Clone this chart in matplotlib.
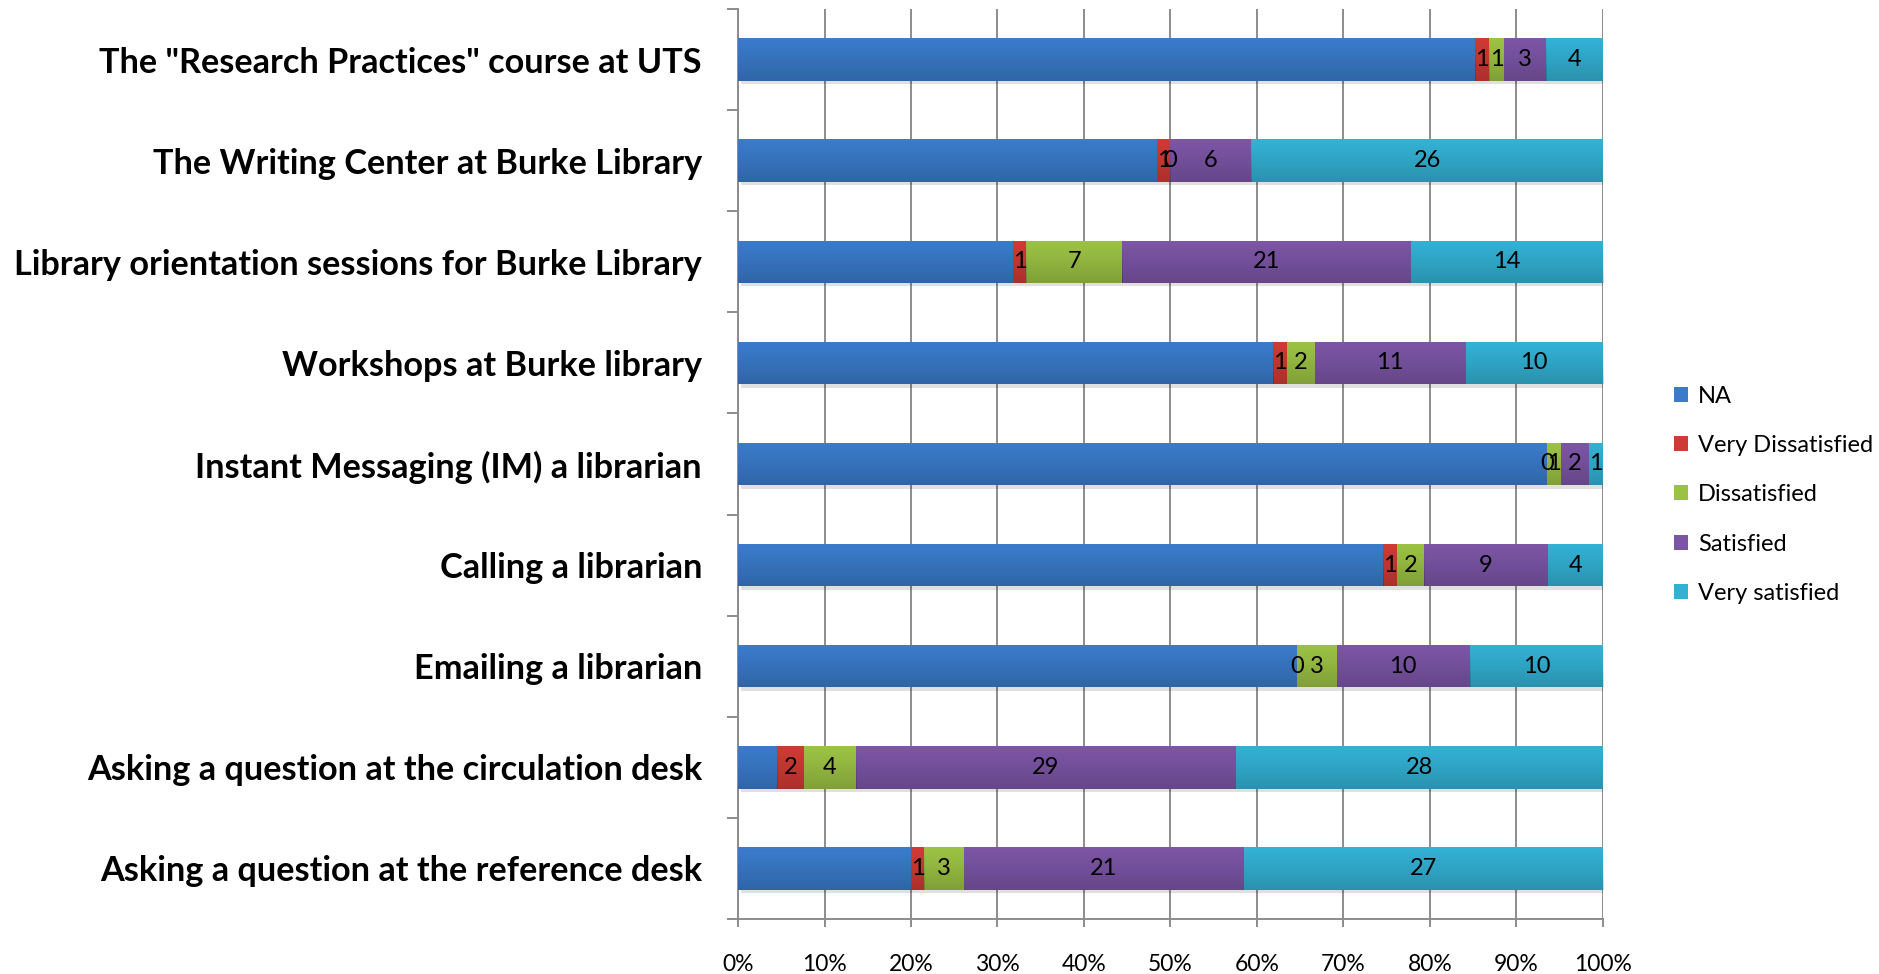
import numpy as np
import matplotlib
matplotlib.use("Agg")
import matplotlib.pyplot as plt
from matplotlib.patches import Patch
from matplotlib import patheffects

plt.rcParams['font.family'] = ['Lato', 'DejaVu Sans']

categories = [
    'The "Research Practices" course at UTS',
    'The Writing Center at Burke Library',
    'Library orientation sessions for Burke Library',
    'Workshops at Burke library',
    'Instant Messaging (IM) a librarian',
    'Calling a librarian',
    'Emailing a librarian',
    'Asking a question at the circulation desk',
    'Asking a question at the reference desk',
]
series_names = ['NA', 'Very Dissatisfied', 'Dissatisfied', 'Satisfied', 'Very satisfied']
na = [52, 31, 20, 39, 58, 47, 42, 3, 13]
very_dissatisfied = [1, 1, 1, 1, 0, 1, 0, 2, 1]
dissatisfied = [1, 0, 7, 2, 1, 2, 3, 4, 3]
satisfied = [3, 6, 21, 11, 2, 9, 10, 29, 21]
very_satisfied = [4, 26, 14, 10, 1, 4, 10, 28, 27]
colors = ['#3A7BCA', '#D03A35', '#9CC244', '#7C55A6', '#33B1D4']

counts = np.array([na, very_dissatisfied, dissatisfied, satisfied, very_satisfied], dtype=float)
shares = counts / counts.sum(axis=0)

fig = plt.figure(figsize=(18.79, 9.74), dpi=100)
ax = fig.add_axes([0.3928, 0.0565, 0.853 - 0.3928, 0.9908 - 0.0565])

# vertical shading overlay: clear at the top, darker at the bottom
shade = np.zeros((64, 1, 4))
shade[:, 0, 3] = np.linspace(0.0, 0.24, 64) ** 1.2

y = np.arange(len(categories))
left = np.zeros(len(categories))
shadow = [patheffects.SimplePatchShadow(offset=(2, -2.5), shadow_rgbFace='black', alpha=0.12),
          patheffects.Normal()]
for i, name in enumerate(series_names):
    bars = ax.barh(y, shares[i], left=left, height=0.42, color=colors[i],
                   label=name, zorder=3, linewidth=0)
    for b in bars:
        b.set_path_effects(shadow)
        if b.get_width() > 0:
            x0, y0 = b.get_x(), b.get_y()
            im = ax.imshow(shade, extent=(x0, x0 + b.get_width(), y0 + b.get_height(), y0),
                           aspect='auto', zorder=3.5, interpolation='bilinear')
            im.set_clip_path(b)
    if i > 0:
        ax.bar_label(bars, labels=[f'{int(v)}' for v in counts[i]],
                     label_type='center', fontsize=17, color='black', zorder=4)
    left += shares[i]

ax.set_xlim(0, 1)
ax.set_ylim(len(categories) - 0.5, -0.5)

grid_col = '#8C8C8C'
ax.set_xticks(np.linspace(0, 1, 11))
ax.set_xticklabels([f'{p}%' for p in range(0, 101, 10)], fontsize=16.5)
ax.xaxis.grid(True, color=grid_col, linewidth=1.4, zorder=0)
ax.set_axisbelow(True)

ax.set_yticks(np.arange(len(categories) + 1) - 0.5)
ax.set_yticklabels([])
ax.set_yticks(y, minor=True)
ax.set_yticklabels(categories, minor=True, fontsize=24.7, fontweight='bold')
ax.tick_params(axis='y', which='minor', length=0, pad=26)
ax.tick_params(axis='y', which='major', length=8, width=1.4, color=grid_col, direction='out')
ax.tick_params(axis='x', length=6, width=1.4, color=grid_col, direction='out', pad=19)

for side in ['top', 'right']:
    ax.spines[side].set_visible(False)
for side in ['left', 'bottom']:
    ax.spines[side].set_color(grid_col)
    ax.spines[side].set_linewidth(1.4)

handles = [Patch(facecolor=c, label=n) for c, n in zip(colors, series_names)]
fig.legend(handles=handles, loc='center left', bbox_to_anchor=(0.886, 0.492),
           frameon=False, fontsize=17, handlelength=0.6, handleheight=0.6,
           handletextpad=0.4, labelspacing=1.2, borderaxespad=0)

fig.savefig('out.png', dpi=100)
